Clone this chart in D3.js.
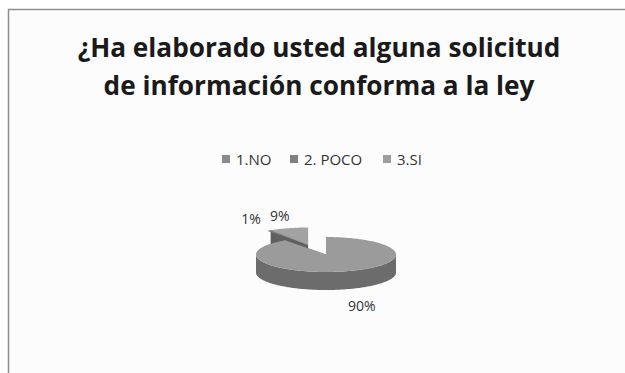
<!DOCTYPE html>
<html>
<head>
<meta charset="utf-8">
<script src="https://cdn.jsdelivr.net/npm/d3@7"></script>
<style>
  html, body { margin: 0; padding: 0; background: #ffffff; }
  svg { display: block; }
</style>
</head>
<body>
<div id="chart"></div>
<script>
// Chart data
const titleLines = ["¿Ha elaborado usted alguna solicitud", "de información conforma a la ley"];
const categories = ["1.NO", "2. POCO", "3.SI"];
const values = [90, 1, 9];
const exploded = [false, true, true];
const topColors = ["#9b9b9b", "#7c7c7c", "#a2a2a2"];
const sideColors = ["#6c6c6c", "#5f5f5f", "#777777"];
const legendColors = ["#8b8b8b", "#7f7f7f", "#9e9e9e"];

const W = 625, H = 373;
const svg = d3.select("#chart").append("svg").attr("width", W).attr("height", H);

// Chart area with a light frame on the top and left edges
svg.append("rect").attr("x", 8).attr("y", 9).attr("width", W - 8).attr("height", H - 9).attr("fill", "#fcfcfc");
svg.append("path").attr("d", `M8.5,${H} V9.5 H${W}`).attr("fill", "none").attr("stroke", "#8e8e8e").attr("stroke-width", 1.5);

// Title, sized so the first line spans the intended width
const title = svg.append("text").attr("text-anchor", "middle")
  .attr("font-family", "'Open Sans', sans-serif").attr("font-weight", 700)
  .attr("font-size", 26).attr("fill", "#1a1a1a");
titleLines.forEach((t, i) => {
  title.append("tspan").attr("x", 319).attr("y", 57 + i * 38).text(t);
});
const firstW = title.select("tspan").node().getComputedTextLength();
title.attr("font-size", 26 * 483 / firstW);

// Legend
const legendX = d3.scaleOrdinal().domain(categories).range([222, 290, 383]);
const legend = svg.append("g").attr("font-family", "'Open Sans', sans-serif").attr("font-size", 15).attr("fill", "#333");
categories.forEach((c, i) => {
  const g = legend.append("g").attr("transform", `translate(${legendX(c)},155)`);
  g.append("rect").attr("width", 8).attr("height", 8).attr("fill", legendColors[i]);
  g.append("text").attr("x", 14).attr("y", 9.5).text(c);
});

// 3D pie geometry
const cx = 326, cy = 254.5, rx = 70, ry = 17.5, depth = 18;
const explodeK = 0.6;
const pie = d3.pie().sort(null).value(d => d)(values);
const pt = (a, k = 1) => [Math.sin(a) * rx * k, -Math.cos(a) * ry * k];

// exploded slices are pushed outward together along the group's mid direction
const groupMid = d3.mean(pie.filter((q, j) => exploded[j]), q => (q.startAngle + q.endAngle) / 2);
const slices = pie.map((p, i) => {
  const mid = (p.startAngle + p.endAngle) / 2;
  const off = exploded[i] ? pt(groupMid, explodeK) : [0, 0];
  return { ...p, i, mid, ox: cx + off[0], oy: cy + off[1] };
});

function arcPoints(s, a0, a1, dz) {
  const n = Math.max(2, Math.ceil((a1 - a0) / 0.02));
  return d3.range(n + 1).map(k => {
    const a = a0 + (a1 - a0) * k / n;
    const p = pt(a);
    return [s.ox + p[0], s.oy + p[1] + dz];
  });
}
const line = d3.line();

const pieG = svg.append("g");
// Draw from back (top of the screen) to front
slices.slice().sort((a, b) => (-Math.cos(a.mid)) - (-Math.cos(b.mid))).forEach(s => {
  const g = pieG.append("g");
  const c = [s.ox, s.oy];
  // radial faces that turn toward the viewer
  [[s.startAngle, -1], [s.endAngle, 1]].forEach(([a, dir]) => {
    const facing = -Math.cos(a + dir * Math.PI / 2) < 0;
    if (!facing) return;
    const p = pt(a);
    const o = [s.ox + p[0], s.oy + p[1]];
    g.append("path").attr("d", line([c, o, [o[0], o[1] + depth], [c[0], c[1] + depth]]) + "Z")
      .attr("fill", sideColors[s.i]);
  });
  // outer front wall (angles between 90deg and 270deg)
  const a0 = Math.max(s.startAngle, Math.PI / 2), a1 = Math.min(s.endAngle, 3 * Math.PI / 2);
  if (a1 > a0) {
    const topArc = arcPoints(s, a0, a1, 0);
    const botArc = arcPoints(s, a0, a1, depth).reverse();
    g.append("path").attr("d", line(topArc.concat(botArc)) + "Z").attr("fill", sideColors[s.i]);
  }
  // top face
  const top = [c].concat(arcPoints(s, s.startAngle, s.endAngle, 0));
  g.append("path").attr("d", line(top) + "Z").attr("fill", topColors[s.i]);
});

// Percentage labels
const total = d3.sum(values);
const labels = svg.append("g").attr("font-family", "'Open Sans', sans-serif").attr("font-size", 14).attr("fill", "#333").attr("text-anchor", "middle");
slices.forEach(s => {
  const front = Math.cos(s.mid) < 0;
  const k = front ? 1.66 : 1.45;
  const p = pt(s.mid, k);
  const x = s.ox + p[0];
  const y = s.oy + p[1] + (front ? depth + 11 : 0);
  labels.append("text").attr("x", x).attr("y", y).text(Math.round(s.value / total * 100) + "%");
});
</script>
</body>
</html>
